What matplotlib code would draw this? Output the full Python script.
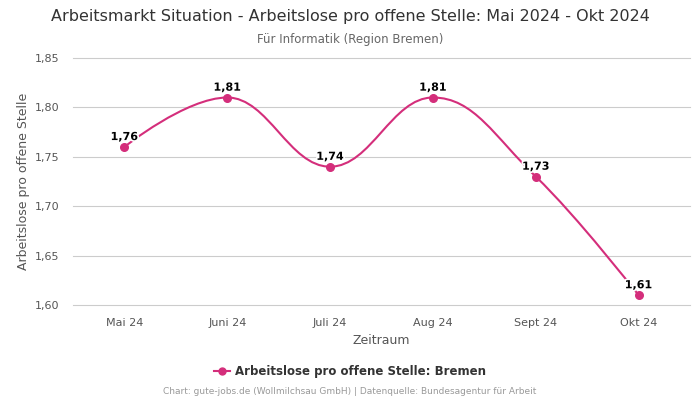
import numpy as np
import matplotlib
matplotlib.use('Agg')
import matplotlib.pyplot as plt
import matplotlib.patheffects as pe
from matplotlib.path import Path
from matplotlib.patches import PathPatch
from matplotlib.lines import Line2D

months = ['Mai 24', 'Juni 24', 'Juli 24', 'Aug 24', 'Sept 24', 'Okt 24']
values = [1.76, 1.81, 1.74, 1.81, 1.73, 1.61]
labels = ['1,76', '1,81', '1,74', '1,81', '1,73', '1,61']
yticks = [1.60, 1.65, 1.70, 1.75, 1.80, 1.85]

color = '#d42e7b'

fig = plt.figure(figsize=(7, 4), dpi=100)
ax = fig.add_axes([73 / 700, 1 - 305 / 400, 617 / 700, 247 / 400])

x = np.arange(len(values))
ax.set_xlim(-0.5, len(values) - 0.5)
ax.set_ylim(1.60, 1.85)


# spline like the one highcharts draws, done in display coords
def spline_path(xs, ys):
    pts = ax.transData.transform(np.column_stack([xs, ys]))
    n = len(pts)
    sm = 1.5
    den = sm + 1
    lc = [None] * n
    rc = [None] * n
    for i in range(1, n - 1):
        px, py = pts[i]
        lx, ly = pts[i - 1]
        nx, ny = pts[i + 1]
        lcx = (sm * px + lx) / den
        lcy = (sm * py + ly) / den
        rcx = (sm * px + nx) / den
        rcy = (sm * py + ny) / den
        corr = ((rcy - lcy) * (rcx - px)) / (rcx - lcx) + py - rcy
        lcy += corr
        rcy += corr
        if lcy > ly and lcy > py:
            lcy = max(ly, py)
            rcy = 2 * py - lcy
        elif lcy < ly and lcy < py:
            lcy = min(ly, py)
            rcy = 2 * py - lcy
        if rcy > ny and rcy > py:
            rcy = max(ny, py)
            lcy = 2 * py - rcy
        elif rcy < ny and rcy < py:
            rcy = min(ny, py)
            lcy = 2 * py - rcy
        lc[i] = (lcx, lcy)
        rc[i] = (rcx, rcy)
    verts = [tuple(pts[0])]
    codes = [Path.MOVETO]
    for i in range(1, n):
        c1 = rc[i - 1] if rc[i - 1] is not None else tuple(pts[i - 1])
        c2 = lc[i] if lc[i] is not None else tuple(pts[i])
        verts += [c1, c2, tuple(pts[i])]
        codes += [Path.CURVE4] * 3
    return Path(verts, codes)


ax.add_patch(PathPatch(spline_path(x, values), facecolor='none', edgecolor=color,
                       lw=1.5, transform=None, zorder=3))
ax.scatter(x, values, s=30, color=color, zorder=4)

for xi, v, lab in zip(x, values, labels):
    ax.annotate(lab, (xi, v), xytext=(0, 3.5), textcoords='offset points',
                ha='center', va='bottom', fontsize=8, fontweight='bold', color='black',
                path_effects=[pe.withStroke(linewidth=2.5, foreground='white')], zorder=5)

ax.set_yticks(yticks)
ax.set_yticklabels([f'{t:.2f}'.replace('.', ',') for t in yticks])
ax.set_xticks(x)
ax.set_xticklabels(months)
ax.tick_params(axis='both', length=0, labelsize=8, colors='#555555')
ax.tick_params(axis='x', pad=9)
ax.tick_params(axis='y', pad=10)
for t in yticks:
    ax.axhline(t, color='#cccccc', lw=0.8, zorder=1, clip_on=False)
for s in ax.spines.values():
    s.set_visible(False)

ax.set_xlabel('Zeitraum', fontsize=9, color='#555555', labelpad=5)
ax.set_ylabel('Arbeitslose pro offene Stelle', fontsize=9, color='#555555', labelpad=3)

fig.text(0.5, 1 - 17 / 400, 'Arbeitsmarkt Situation - Arbeitslose pro offene Stelle: Mai 2024 - Okt 2024',
         ha='center', va='center', fontsize=11.5, color='#333333')
fig.text(0.5, 1 - 39 / 400, 'Für Informatik (Region Bremen)', ha='center', va='center',
         fontsize=8.5, color='#666666')

handle = Line2D([], [], color=color, marker='o', markersize=5, lw=1.5)
fig.legend([handle], ['Arbeitslose pro offene Stelle: Bremen'], loc='center',
           bbox_to_anchor=(0.5, 1 - 372 / 400), frameon=False, handlelength=1.3,
           handletextpad=0.4, prop={'size': 8.5, 'weight': 'bold'}, labelcolor='#333333')

fig.text(0.5, 1 - 392 / 400, 'Chart: gute-jobs.de (Wollmilchsau GmbH) | Datenquelle: Bundesagentur für Arbeit',
         ha='center', va='center', fontsize=6.5, color='#999999')

fig.savefig('out.png', dpi=100, facecolor='white')
